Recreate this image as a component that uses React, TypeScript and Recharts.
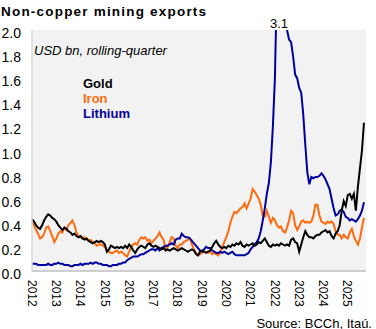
import { LineChart, Line, XAxis, YAxis, CartesianGrid, ReferenceDot } from 'recharts';

// monthly, rolling-quarter, USD bn, from Jan 2012
const START_YEAR = 2012;

const GOLD = [
  0.43, 0.41, 0.38, 0.36, 0.35, 0.38, 0.42, 0.45, 0.47, 0.46, 0.44, 0.43,
  0.41, 0.38, 0.36, 0.34, 0.36, 0.35, 0.33, 0.32, 0.30, 0.31, 0.29, 0.28,
  0.29, 0.27, 0.26, 0.27, 0.25, 0.24, 0.23, 0.24, 0.25, 0.24, 0.25, 0.24,
  0.22, 0.16, 0.18, 0.21, 0.20, 0.19, 0.20, 0.19, 0.20, 0.19, 0.21, 0.19,
  0.22, 0.20, 0.17, 0.15, 0.18, 0.20, 0.21, 0.20, 0.19, 0.22, 0.23, 0.21,
  0.20, 0.21, 0.20, 0.19, 0.18, 0.19, 0.17, 0.18, 0.17, 0.18, 0.19, 0.18,
  0.17, 0.18, 0.19, 0.18, 0.17, 0.16, 0.17, 0.18, 0.17, 0.14, 0.13, 0.16,
  0.17, 0.16, 0.15, 0.16, 0.17, 0.20, 0.23, 0.25, 0.22, 0.20, 0.19, 0.20,
  0.19, 0.21, 0.20, 0.22, 0.21, 0.23, 0.22, 0.24, 0.21, 0.20, 0.22, 0.21,
  0.22, 0.23, 0.21, 0.22, 0.24, 0.23, 0.25, 0.27, 0.24, 0.21, 0.20, 0.22,
  0.21, 0.22, 0.21, 0.23, 0.22, 0.21, 0.22, 0.21, 0.26, 0.27, 0.24, 0.23,
  0.16, 0.22, 0.28, 0.33, 0.30, 0.28, 0.28, 0.27, 0.29, 0.30, 0.30, 0.32,
  0.33, 0.34, 0.32, 0.33, 0.29, 0.27, 0.31, 0.33, 0.38, 0.50, 0.58, 0.54,
  0.63, 0.64, 0.60, 0.64, 0.50, 0.70, 0.85, 1.00, 1.23,
];

const IRON = [
  0.41, 0.38, 0.34, 0.31, 0.27, 0.28, 0.31, 0.36, 0.37, 0.33, 0.29, 0.24,
  0.27, 0.31, 0.33, 0.32, 0.36, 0.34, 0.38, 0.40, 0.42, 0.38, 0.32, 0.29,
  0.28, 0.27, 0.28, 0.26, 0.25, 0.26, 0.24, 0.23, 0.21, 0.22, 0.22, 0.21,
  0.20, 0.17, 0.16, 0.15, 0.15, 0.16, 0.17, 0.15, 0.16, 0.15, 0.13, 0.12,
  0.16, 0.20, 0.22, 0.23, 0.22, 0.26, 0.28, 0.27, 0.28, 0.25, 0.26, 0.23,
  0.25, 0.27, 0.29, 0.32, 0.28, 0.26, 0.18, 0.20, 0.24, 0.28, 0.27, 0.21,
  0.19, 0.22, 0.22, 0.24, 0.25, 0.26, 0.27, 0.22, 0.18, 0.15, 0.13, 0.14,
  0.15, 0.16, 0.16, 0.15, 0.16, 0.14, 0.15, 0.14, 0.13, 0.15, 0.20, 0.24,
  0.28, 0.33, 0.40, 0.45, 0.49, 0.48, 0.50, 0.52, 0.53, 0.56, 0.52, 0.56,
  0.60, 0.68, 0.66, 0.63, 0.60, 0.55, 0.46, 0.45, 0.50, 0.45, 0.40, 0.44,
  0.42, 0.38, 0.36, 0.37, 0.33, 0.32, 0.36, 0.42, 0.50, 0.48, 0.38, 0.34,
  0.37, 0.41, 0.42, 0.40, 0.41, 0.40, 0.41, 0.46, 0.55, 0.55, 0.46, 0.41,
  0.40, 0.39, 0.41, 0.40, 0.41, 0.39, 0.33, 0.30, 0.30, 0.27, 0.30, 0.28,
  0.27, 0.32, 0.35, 0.29, 0.25, 0.22, 0.27, 0.36, 0.44,
];

const LITHIUM = [
  0.06, 0.06, 0.06, 0.05, 0.05, 0.05, 0.05, 0.05, 0.06, 0.05, 0.05, 0.06,
  0.06, 0.07, 0.06, 0.06, 0.05, 0.05, 0.05, 0.04, 0.04, 0.05, 0.05, 0.05,
  0.06, 0.05, 0.06, 0.06, 0.06, 0.07, 0.06, 0.07, 0.07, 0.06, 0.06, 0.05,
  0.05, 0.05, 0.04, 0.04, 0.05, 0.05, 0.05, 0.06, 0.06, 0.07, 0.07, 0.09,
  0.10, 0.11, 0.12, 0.12, 0.12, 0.13, 0.14, 0.14, 0.15, 0.16, 0.17, 0.18,
  0.18, 0.17, 0.19, 0.17, 0.19, 0.20, 0.21, 0.21, 0.22, 0.23, 0.22, 0.26,
  0.27, 0.27, 0.31, 0.29, 0.28, 0.28, 0.27, 0.25, 0.23, 0.21, 0.19, 0.17,
  0.16, 0.18, 0.20, 0.19, 0.19, 0.17, 0.16, 0.15, 0.15, 0.16, 0.15, 0.16,
  0.15, 0.14, 0.15, 0.16, 0.14, 0.13, 0.13, 0.13, 0.13, 0.13, 0.14, 0.15,
  0.18, 0.20, 0.22, 0.24, 0.27, 0.33, 0.42, 0.52, 0.64, 0.73, 0.90, 1.20,
  1.60, 2.40, 3.10, 2.90, 2.60, 2.30, 2.00, 1.92, 1.90, 1.78, 1.63, 1.60,
  1.52, 1.48, 1.30, 1.05, 0.82, 0.72, 0.78, 0.77, 0.78, 0.78, 0.79, 0.81,
  0.79, 0.76, 0.72, 0.68, 0.60, 0.52, 0.46, 0.47, 0.50, 0.51, 0.49, 0.45,
  0.44, 0.42, 0.43, 0.42, 0.41, 0.43, 0.46, 0.50, 0.57,
];

const YEAR_TICKS = [2012, 2013, 2014, 2015, 2016, 2017, 2018, 2019, 2020, 2021, 2022, 2023, 2024, 2025];
const VALUE_TICKS = [0, 0.2, 0.4, 0.6, 0.8, 1.0, 1.2, 1.4, 1.6, 1.8, 2.0];

const SERIES = [
  { key: 'gold', name: 'Gold', color: '#000000' },
  { key: 'iron', name: 'Iron', color: '#FF6A0D' },
  { key: 'lithium', name: 'Lithium', color: '#0000A0' },
];

const data = GOLD.map((g, i) => ({
  t: START_YEAR + i / 12,
  gold: g,
  iron: IRON[i],
  lithium: LITHIUM[i],
}));

const peakIdx = LITHIUM.indexOf(Math.max(...LITHIUM));
const FONT = '"Liberation Sans", Arial, sans-serif';

const XTick = ({ x, payload }: any) => (
  <text
    transform={`translate(${x},280) rotate(90)`}
    dy="0.36em" textAnchor="start"
    fontSize={12} fontFamily={FONT} fill="#000"
  >
    {payload.value}
  </text>
);

const YTick = ({ y, payload }: any) => (
  <text x={21} y={y + 8} textAnchor="end" fontSize={14} fontFamily={FONT} fill="#000">
    {payload.value.toFixed(1)}
  </text>
);

export default function App() {
  return (
    <div style={{ position: 'absolute', left: 0, top: 0, width: 376, height: 329 }}>
      <LineChart width={376} height={329} data={data} margin={{ top: 30, right: 10, bottom: 28, left: 0 }}>
        <CartesianGrid fill="#F2F2F2" stroke="#F2F2F2" strokeOpacity={0} />
        <XAxis
          type="number" dataKey="t" domain={[2012, 2025.75]} ticks={YEAR_TICKS} height={30}
          tick={<XTick />} tickLine={false} axisLine={{ stroke: '#BFBFBF', strokeWidth: 1.5 }}
          interval={0}
        />
        <YAxis
          width={32} domain={[0, 2]} ticks={VALUE_TICKS} allowDataOverflow
          tick={<YTick />} tickLine={false} axisLine={{ stroke: '#D9D9D9', strokeWidth: 1.5 }}
          interval={0}
        />
        <Line dataKey="iron" stroke="#FF6A0D" strokeWidth={2} dot={false} isAnimationActive={false} />
        <Line dataKey="lithium" stroke="#0000A0" strokeWidth={2} dot={false} isAnimationActive={false} />
        <Line dataKey="gold" stroke="#000000" strokeWidth={2} dot={false} isAnimationActive={false} />
        <ReferenceDot
          x={data[peakIdx].t} y={2} r={0} ifOverflow="visible"
          label={{ value: LITHIUM[peakIdx].toFixed(1), position: 'top', offset: 2, fontSize: 13, fill: '#000', fontFamily: FONT }}
        />
      </LineChart>
      <svg width={376} height={329} style={{ position: 'absolute', left: 0, top: 0, pointerEvents: 'none' }}>
        <text x={1} y={15.5} fontSize={13.5} fontWeight="bold" letterSpacing={1.2} fontFamily={FONT} fill="#000">
          Non-copper mining exports
        </text>
        <text x={34} y={55} fontSize={13} fontStyle="italic" fontFamily={FONT} fill="#000">
          USD bn, rolling-quarter
        </text>
        {SERIES.map((s, i) => (
          <text key={s.key} x={83} y={87.5 + i * 15} fontSize={13} fontWeight="bold" fontFamily={FONT} fill={s.color}>
            {s.name}
          </text>
        ))}
        <text x={372} y={327.5} textAnchor="end" fontSize={13} fontFamily={FONT} fill="#000">
          Source: BCCh, Itaú.
        </text>
      </svg>
    </div>
  );
}
